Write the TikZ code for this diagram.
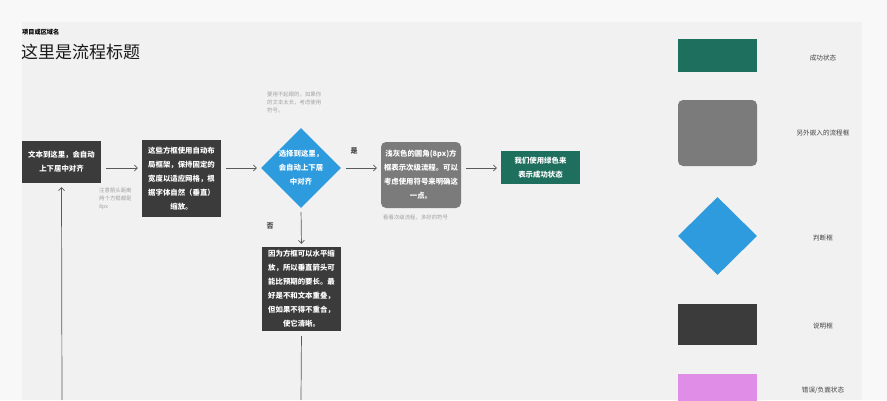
\documentclass[tikz,border=0pt]{standalone}
\usepackage{fontspec}
\setmainfont{Noto Sans CJK SC}
\usetikzlibrary{shapes.geometric,arrows.meta}
\definecolor{pagebg}{HTML}{F8F8F8}
\definecolor{panelbg}{HTML}{F1F1F1}
\definecolor{darkbox}{HTML}{3B3B3B}
\definecolor{graybox}{HTML}{7B7B7B}
\definecolor{bluebox}{HTML}{2E9BDF}
\definecolor{greenbox}{HTML}{1F6F5E}
\definecolor{pinkbox}{HTML}{DF8DE6}
\definecolor{arrowc}{HTML}{5A5A5A}
\definecolor{notec}{HTML}{A2A2A2}
\definecolor{labc}{HTML}{444444}
\tikzset{
  boxtext/.style={text=white, font=\fontsize{7.4}{14}\selectfont\bfseries, align=center, inner sep=0pt},
  darkrect/.style={fill=darkbox, boxtext},
  grayrect/.style={fill=graybox, rounded corners=5pt, boxtext},
  greenrect/.style={fill=greenbox, boxtext},
  pinkrect/.style={fill=pinkbox},
  dia/.style={diamond, fill=bluebox, inner sep=0pt, minimum width=80pt, minimum height=80pt},
  arr/.style={draw=arrowc, line width=0.7pt, -{Straight Barb[length=3pt,width=6pt]}},
  plain/.style={draw=arrowc, line width=0.7pt},
  note/.style={text=notec, font=\fontsize{5.4}{8}\selectfont, align=left, anchor=north west, inner sep=0pt},
  leglab/.style={text=labc, font=\fontsize{6.6}{8}\selectfont, inner sep=0pt},
  yesno/.style={text=labc, font=\fontsize{7}{8}\selectfont\bfseries, inner sep=0pt}
}
\begin{document}
\begin{tikzpicture}[x=1pt,y=-1pt]
\useasboundingbox (0,0) rectangle (887,400);
\fill[pagebg] (0,0) rectangle (887,400);
\fill[panelbg] (22,22) rectangle (862,400);

% titles
\node[anchor=west, inner sep=0pt, font=\fontsize{6.2}{7}\selectfont\bfseries, text=black] (sub) at (22,32) {项目或区域名};
\node[anchor=west, inner sep=0pt, font=\fontsize{17}{20}\selectfont, text=black!90] (title) at (21,52) {这里是流程标题};

% flow nodes
\node[darkrect, minimum width=79pt, minimum height=42pt] (b1) at (61.5,162) {文本到这里，会自动\\上下居中对齐};
\node[darkrect, minimum width=79pt, minimum height=77pt] (b2) at (181.5,178.5) {这些方框使用自动布\\局框架，保持固定的\\宽度以适应网格，根\\据字体自然（垂直）\\缩放。};
\node[dia] (d) at (301,168) {};
\node[boxtext] (dt) at (301,168) {选择到这里，\\会自动上下居\\中对齐};
\node[grayrect, minimum width=80pt, minimum height=66pt] (g) at (421,175) {浅灰色的圆角(8px)方\\框表示次级流程。可以\\考虑使用符号来明确这\\一点。};
\node[greenrect, minimum width=79pt, minimum height=33pt] (s) at (540.5,167.5) {我们使用绿色来\\表示成功状态};
\node[darkrect, minimum width=79pt, minimum height=84pt] (b3) at (301.5,289) {因为方框可以水平缩\\放，所以垂直箭头可\\能比预期的要长。最\\好是不和文本重叠，\\但如果不得不重合，\\使它清晰。};

% notes
\node[note] (n1) at (99,188) {注意箭头距离\\两个方框都是\\8px};
\node[note] (n2) at (267,92) {要用不起眼的，如果你\\的文本太长，考虑使用\\符号。};
\node[note] (n3) at (383,215) {看看次级流程，多好的符号};
\node[yesno] (yes) at (354,151) {是};
\node[yesno] (no) at (270,226) {否};

% connectors
\coordinate (lb) at (62,400);
\coordinate (db) at (301,400);
\draw[arr, shorten <=5pt, shorten >=4pt] (b1.east |- d) -- (b2.west |- d);
\draw[arr, shorten <=5pt, shorten >=4pt] (b2.east |- d) -- (d.west);
\draw[arr, shorten <=5pt, shorten >=4pt] (d.east) -- (g.west |- d);
\draw[arr, shorten <=5pt, shorten >=4pt] (g.east |- d) -- (s.west |- d);
\draw[arr, shorten <=4pt, shorten >=3pt] (d.south) -- (b3.north);
\draw[plain, shorten <=5pt] (b3.south) -- (db);
\draw[arr, shorten >=4pt] (lb) -- (b1.south);

% legend
\node[greenrect, minimum width=79pt, minimum height=33pt] (lg) at (717.5,55.5) {};
\node[grayrect, minimum width=79pt, minimum height=66pt] (lgr) at (717.5,133) {};
\node[dia, minimum width=79pt, minimum height=78pt] (ld) at (717.5,236) {};
\node[darkrect, minimum width=79pt, minimum height=41pt] (ldk) at (717.5,324.5) {};
\node[pinkrect, minimum width=79pt, minimum height=40pt, anchor=north] (lp) at (717.5,374) {};
\node[leglab] (l1) at (823,58) {成功状态};
\node[leglab] (l2) at (823,133) {另外嵌入的流程框};
\node[leglab] (l3) at (823,238) {判断框};
\node[leglab] (l4) at (823,326) {说明框};
\node[leglab] (l5) at (823,390) {错误/负面状态};
\end{tikzpicture}
\end{document}
